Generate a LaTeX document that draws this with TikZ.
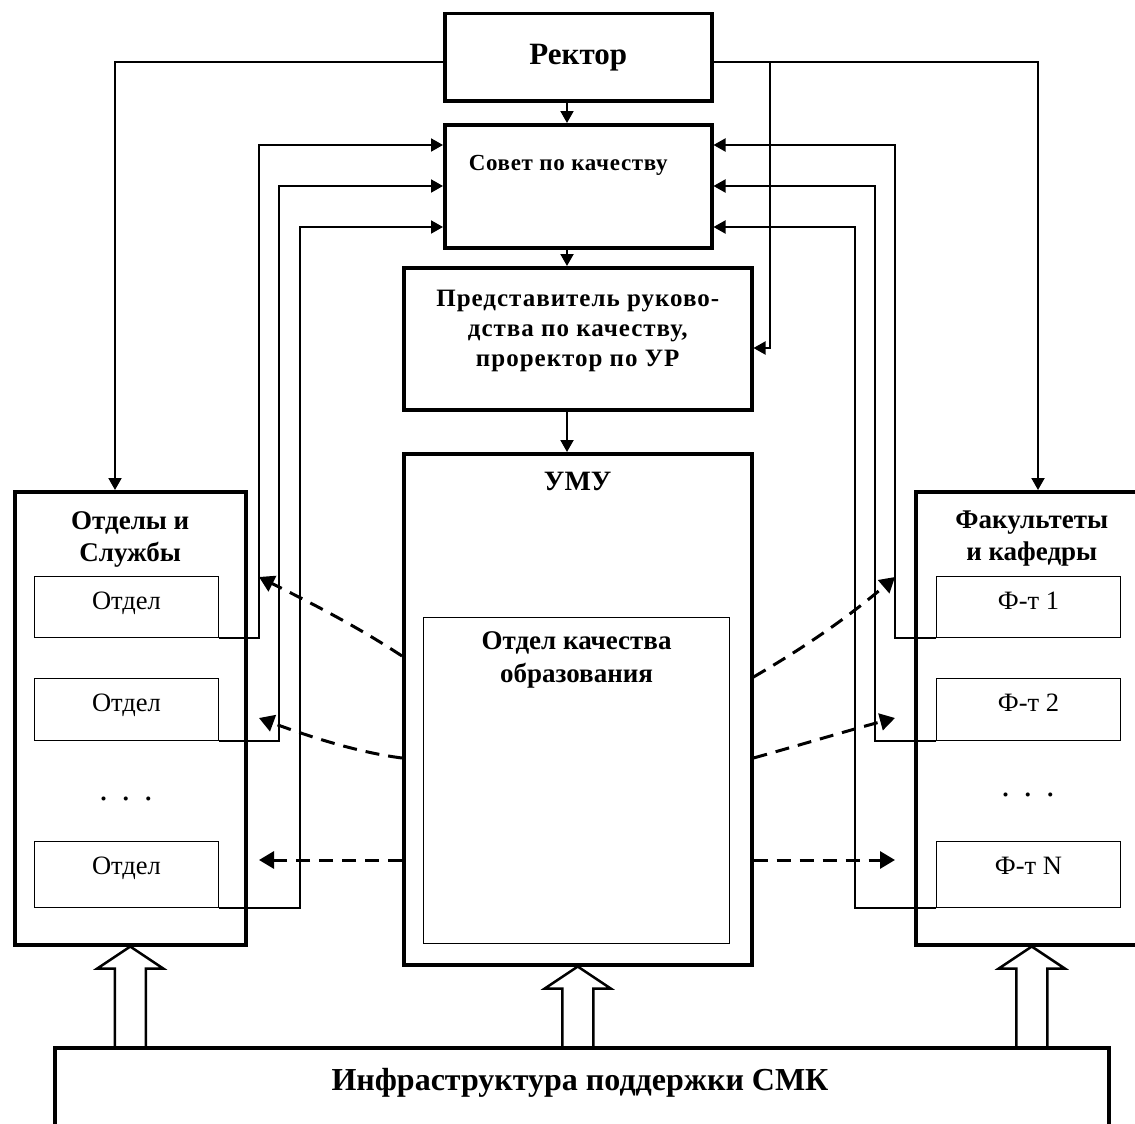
\documentclass[tikz,border=0pt]{standalone}
\usepackage{fontspec}
\setmainfont{Liberation Serif}
\usetikzlibrary{arrows.meta,calc,positioning}

\tikzset{
  unit/.style={draw, line width=3.5pt, anchor=north west, inner sep=0pt},
  sub/.style={draw, line width=1pt, anchor=north west, inner sep=0pt, minimum width=184pt, minimum height=61pt},
  head/.style={font=\bfseries\fontsize{27}{32}\selectfont, align=center, inner sep=0pt},
  plain/.style={font=\fontsize{26.5}{28}\selectfont, inner sep=0pt},
  link/.style={line width=2pt, -{Triangle[length=12pt,width=13pt]}},
  info/.style={line width=3pt, dash pattern=on 14pt off 9pt, -{Triangle[length=15pt,width=17pt]}},
  hollow/.style={draw, line width=2.5pt, line join=miter}
}

\begin{document}
\begin{tikzpicture}[x=1pt,y=-1pt]
\useasboundingbox (0,0) rectangle (1135,1124);

% centre column
\node[unit, minimum width=267pt, minimum height=87pt, font=\bfseries\fontsize{31}{34}\selectfont] (rector) at (443,12) {Ректор};
\node[unit, minimum width=267pt, minimum height=123pt] (council) at (443,123) {};
\node[head, font=\bfseries\fontsize{23}{25}\selectfont\addfontfeatures{LetterSpace=3}, below=32pt of council.north, xshift=-10pt] (councilt) {Совет по качеству};
\node[unit, minimum width=348pt, minimum height=142pt] (repr) at (402,266) {};
\node[head, font=\bfseries\fontsize{25}{30}\selectfont\addfontfeatures{LetterSpace=4}, below=24pt of repr.north] (reprt) {Представитель руково-\\дства по качеству,\\проректор по УР};
\node[unit, minimum width=348pt, minimum height=511pt] (umu) at (402,452) {};
\node[head, font=\bfseries\fontsize{28}{32}\selectfont, below=20pt of umu.north] (umut) {УМУ};
\node[draw, line width=1.2pt, anchor=north west, inner sep=0pt, minimum width=306pt, minimum height=326pt] (oqe) at (423,617) {};
\node[head, font=\bfseries\fontsize{27}{33}\selectfont, below=14pt of oqe.north] (oqet) {Отдел качества\\образования};

% left column
\node[unit, minimum width=231pt, minimum height=453pt] (depts) at (13,490) {};
\node[head, below=21pt of depts.north] (deptst) {Отделы и\\Службы};
\node[sub] (d1) at (34,576) {};
\node[sub, minimum height=62pt] (d2) at (34,678) {};
\node[sub, minimum height=66pt] (d3) at (34,841) {};
\foreach \b in {d1,d2,d3} \node[plain, below=16pt of \b.north] (t\b) {Отдел};
\node[plain, font=\fontsize{34}{34}\selectfont, anchor=base] (ldots) at (126,800) {.\hspace{14pt}.\hspace{14pt}.};

% right column
\node[unit, minimum width=232pt, minimum height=453pt] (facs) at (914,490) {};
\node[head, below=21pt of facs.north] (facst) {Факультеты\\и кафедры};
\node[sub] (f1) at (936,576) {};
\node[sub, minimum height=62pt] (f2) at (936,678) {};
\node[sub, minimum height=66pt] (f3) at (936,841) {};
\node[plain, below=16pt of f1.north] (tf1) {Ф-т 1};
\node[plain, below=16pt of f2.north] (tf2) {Ф-т 2};
\node[plain, below=16pt of f3.north] (tf3) {Ф-т N};
\node[plain, font=\fontsize{34}{34}\selectfont, anchor=base] (rdots) at (1028,796) {.\hspace{14pt}.\hspace{14pt}.};

% bottom
\node[unit, minimum width=1054pt, minimum height=100pt] (infra) at (53,1046) {};
\node[head, font=\bfseries\fontsize{32}{34}\selectfont] (infrat) at (580,1083) {Инфраструктура поддержки СМК};

% chain of command
\coordinate (mid) at (567,0);
\draw[link] (rector.south -| mid) -- (council.north -| mid);
\draw[link] (council.south -| mid) -- (repr.north -| mid);
\draw[link] (repr.south -| mid) -- (umu.north -| mid);
\coordinate (rl) at (115,62);
\coordinate (rr) at (1038,62);
\coordinate (rv) at (770,348);
\draw[link] (rector.west |- rl) -- (rl) -- (rl |- depts.north);
\draw[link] (rector.east |- rr) -- (rr) -- (rr |- facs.north);
\draw[link] (rv |- rr) -- (rv) -- (rv -| repr.east);

% reports to the council
\foreach \b/\x/\y in {d1/259/145, d2/279/186, d3/300/227}{
  \coordinate (c\b) at (\x,\y);
  \draw[link] (\b.south east) -| (c\b) -- (c\b -| council.west);
}
\foreach \b/\x/\y in {f1/895/145, f2/875/186, f3/855/227}{
  \coordinate (c\b) at (\x,\y);
  \draw[link] (\b.south west) -| (c\b) -- (c\b -| council.east);
}

% information flows
\coordinate (dl1) at (259,577);
\coordinate (dl2) at (259,718);
\coordinate (dl3) at (259,860);
\coordinate (dr1) at (895,577);
\coordinate (dr2) at (895,718);
\coordinate (dr3) at (895,860);
\draw[info] ([yshift=-204pt]umu.north west) .. controls (355,625) and (305,600) .. (dl1);
\draw[info] ([yshift=-306pt]umu.north west) .. controls (355,752) and (305,735) .. (dl2);
\draw[info] ([yshift=-408pt]umu.north west) -- (dl3);
\draw[info] ([yshift=-225pt]umu.north east) .. controls (800,650) and (845,620) .. (dr1);
\draw[info] ([yshift=-306pt]umu.north east) .. controls (800,745) and (850,730) .. (dr2);
\draw[info] ([yshift=-408pt]umu.north east) -- (dr3);

% support
\foreach \bx in {depts,umu,facs}
  \draw[hollow] let \p1=(\bx.south), \p2=(infra.north) in
    (\x1-15.5pt,\y2) -- (\x1-15.5pt,\y1-22pt) -- (\x1-33pt,\y1-22pt) -- (\p1)
    -- (\x1+33pt,\y1-22pt) -- (\x1+15.5pt,\y1-22pt) -- (\x1+15.5pt,\y2);
\end{tikzpicture}
\end{document}
